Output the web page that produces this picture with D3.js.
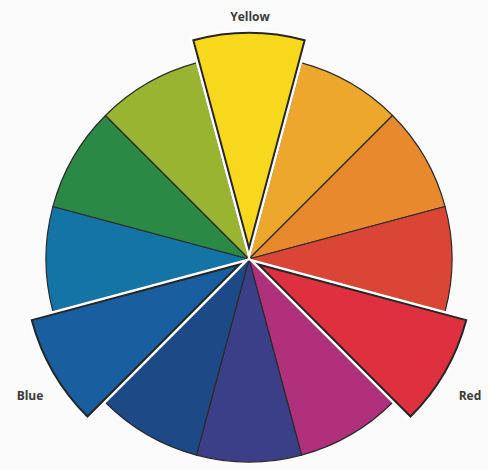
<html><head>
<script src="https://cdnjs.cloudflare.com/ajax/libs/d3/7.8.5/d3.min.js"></script>
<style>
body {
    margin: 0;
    background-color: #fbfbfb;
}
.label {
    font-family: "Open Sans", Arial, sans-serif;
    font-size: 12px;
    font-weight: bold;
    fill: #3a3a3a;
}
</style>
</head>
<body>
<div id="chart"></div>

<script>
// Wheel data: clockwise from the top
const hues = ["Yellow", "Yellow-orange", "Orange", "Red-orange", "Red", "Red-violet",
              "Violet", "Blue-violet", "Blue", "Blue-green", "Green", "Yellow-green"];
const hueColors = ["#f8d81c", "#eca72c", "#e8892e", "#db4535", "#df3040", "#b0307c",
                   "#3a3f88", "#1d4a86", "#195e9e", "#1574a6", "#2a8a45", "#98b431"];
const shares = [1, 1, 1, 1, 1, 1, 1, 1, 1, 1, 1, 1];
const primaries = ["Yellow", "Red", "Blue"];

const width = 488;
const height = 470;
const cx = 249, cy = 259;
const radius = 203;
const bigRadius = 215;
const pullOut = 11;

const svg = d3.select("#chart")
    .append("svg")
    .attr("width", width)
    .attr("height", height);

const g = svg.append("g")
    .attr("transform", `translate(${cx},${cy})`);

const pie = d3.pie()
    .sort(null)
    .startAngle(-Math.PI / 12)
    .endAngle(2 * Math.PI - Math.PI / 12);

const slices = pie(shares).map((d, i) => ({...d, name: hues[i], color: hueColors[i]}));

const arc = d3.arc().innerRadius(0).outerRadius(radius);
const bigArc = d3.arc().innerRadius(0).outerRadius(bigRadius);

// plain wedges
g.selectAll("path.wedge")
    .data(slices.filter(d => !primaries.includes(d.name)))
    .join("path")
    .attr("class", "wedge")
    .attr("d", arc)
    .attr("fill", d => d.color)
    .attr("stroke", "#2b2b2b")
    .attr("stroke-width", 1.2)
    .attr("stroke-linejoin", "round");

// pulled-out primary wedges
function shift(d) {
    const a = (d.startAngle + d.endAngle) / 2;
    return `translate(${pullOut * Math.sin(a)},${-pullOut * Math.cos(a)})`;
}

const prim = g.selectAll("g.primary")
    .data(slices.filter(d => primaries.includes(d.name)))
    .join("g")
    .attr("class", "primary")
    .attr("transform", shift);

prim.append("path")
    .attr("d", bigArc)
    .attr("fill", "none")
    .attr("stroke", "#ffffff")
    .attr("stroke-width", 7)
    .attr("stroke-linejoin", "miter");

prim.append("path")
    .attr("d", bigArc)
    .attr("fill", d => d.color)
    .attr("stroke", "#262626")
    .attr("stroke-width", 2)
    .attr("stroke-linejoin", "miter");

// labels
const labelPos = {Yellow: [250, 21], Red: [470, 400], Blue: [30, 400]};
svg.selectAll("text.label")
    .data(primaries)
    .join("text")
    .attr("class", "label")
    .attr("x", d => labelPos[d][0])
    .attr("y", d => labelPos[d][1])
    .attr("text-anchor", "middle")
    .text(d => d);
</script>
</body></html>
